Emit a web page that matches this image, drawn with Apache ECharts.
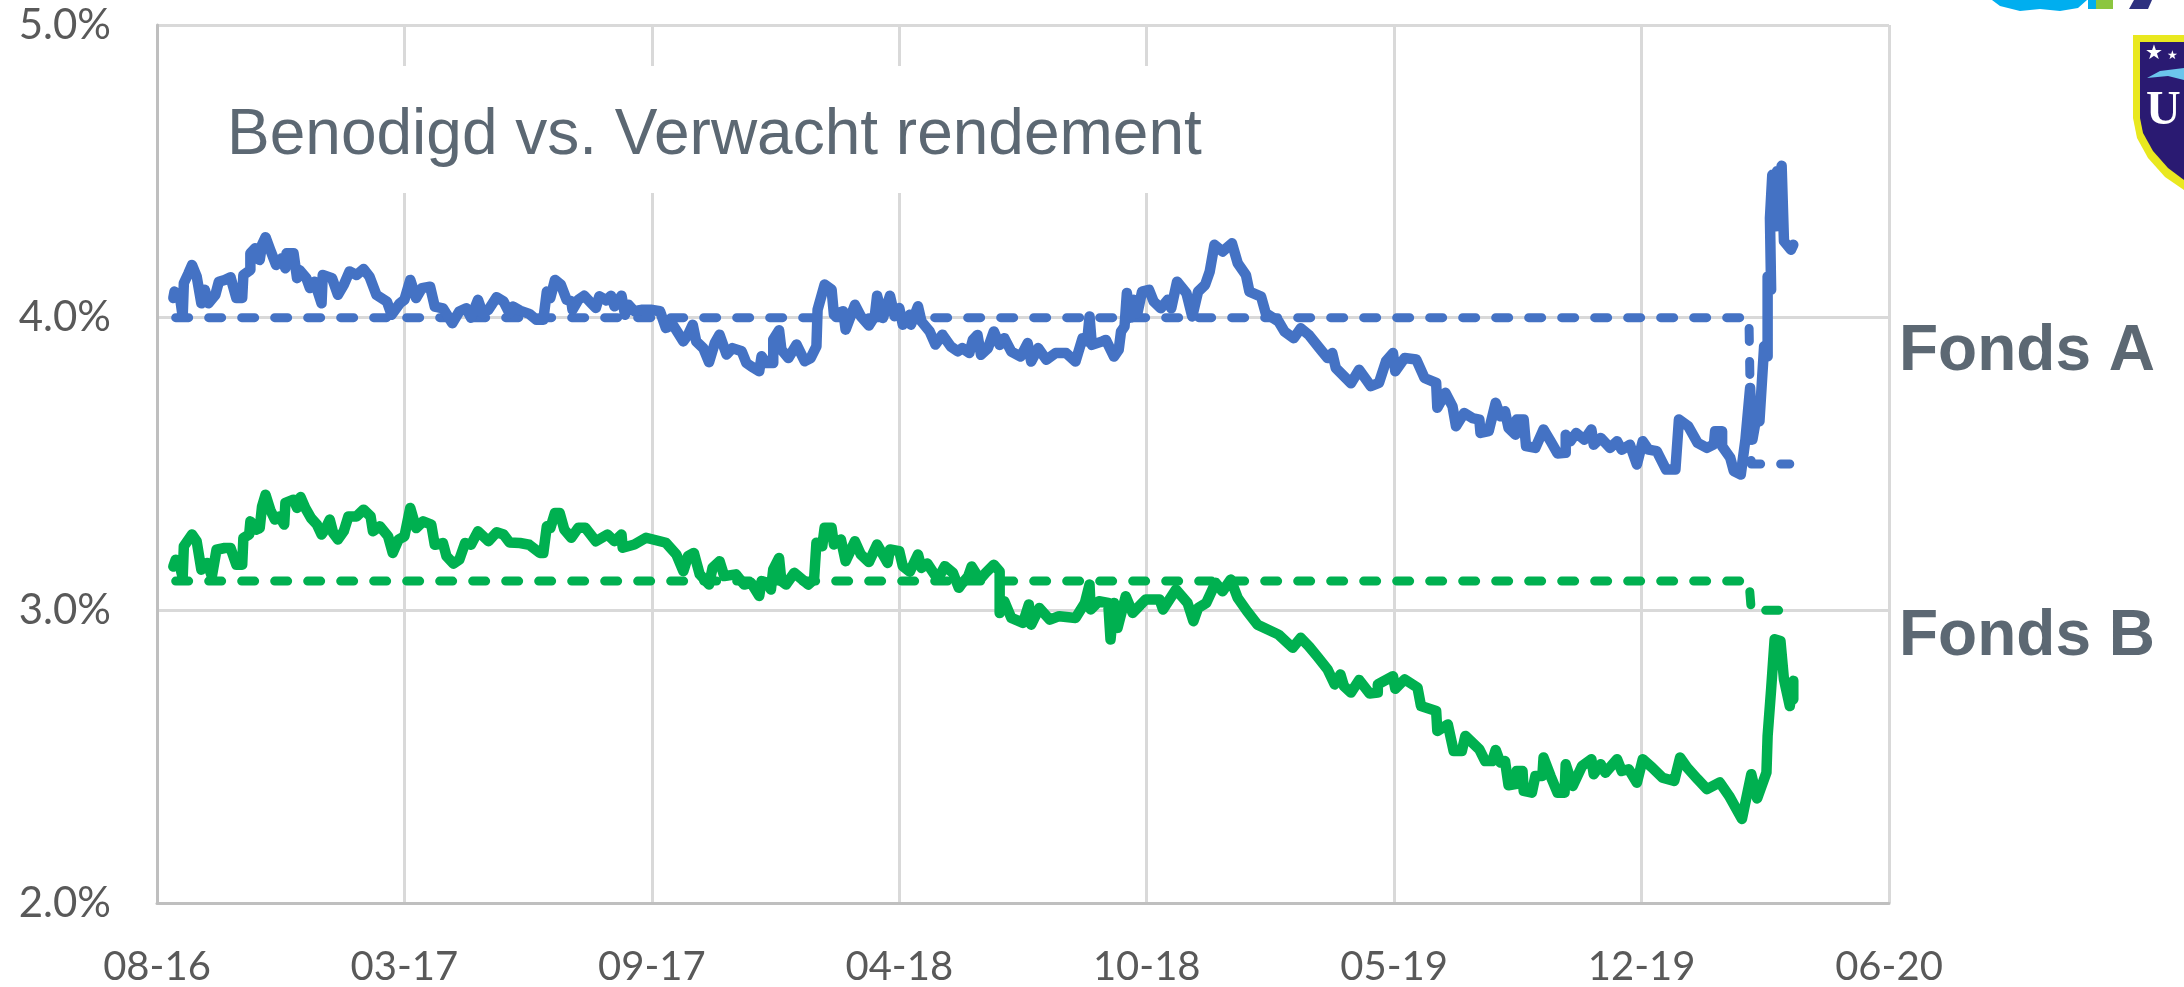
<!DOCTYPE html>
<html>
<head>
<meta charset="utf-8">
<title>Benodigd vs. Verwacht rendement</title>
<style>
html,body{margin:0;padding:0;background:#fff;}
#chart{width:2184px;height:987px;}
</style>
<script src="https://cdn.jsdelivr.net/npm/echarts@6/dist/echarts.min.js"></script>
</head>
<body>
<div id="chart"></div>
<script>
// tick labels of the date axis, one per 212 days
let xLabels = ['08-16','03-17','09-17','04-18','10-18','05-19','12-19','06-20'];

// Fonds A, verwacht rendement (days since 08-16, percent)
let blueDays = [14,15,20,22,23,27,30,34,38,41,44,50,53,58,63,68,73,74,80,80,84,88,90,93,97,102,107,110,111,117,120,122,128,131,135,141,142,150,155,160,165,171,177,182,188,197,201,208,212,217,222,227,234,238,245,253,259,265,269,275,279,284,291,297,302,305,311,319,325,331,334,337,341,
346,351,355,356,361,366,372,376,379,385,389,392,398,401,404,409,415,423,431,436,442,451,455,459,462,468,473,478,482,488,493,501,505,509,516,518,522,528,528,533,535,541,548,555,560,565,566,572,578,580,588,590,598,603,610,615,617,622,628,632,636,639,645,646,652,655,662,667,673,680,686,
690,696,699,703,706,712,717,722,726,732,740,746,749,755,762,770,779,787,793,797,799,801,810,813,820,824,826,829,831,834,837,840,844,850,854,860,866,869,874,882,887,892,898,902,906,913,921,926,933,936,946,950,961,966,974,980,987,996,1003,1007,1010,1023,
1030,1040,1047,1053,1059,1061,1069,1079,1086,1096,1097,1104,1110,1113,1120,1127,1133,1134,1141,1147,1151,1155,1158,1164,1165,1171,1173,1181,1188,1194,1200,1207,1207,1211,1216,1223,1229,1231,1237,1245,1251,1255,1262,1268,1273,1278,1285,1293,1301,1304,1312,
1320,1328,1334,1335,1341,1341,1348,1351,1357,1361,1365,1367,1370,1373,1377,1380,1380,1383,1382,1384,1387,1388,1390,1392,1394,1400,1402];
let blueValues = [4.067,4.089,4.061,4.004,4.118,4.152,4.180,4.141,4.049,4.095,4.049,4.078,4.123,4.129,4.138,4.067,4.067,4.146,4.163,4.220,4.237,4.197,4.249,4.275,4.232,4.180,4.203,4.169,4.220,4.220,4.135,4.163,4.135,4.101,4.123,4.049,4.146,4.135,4.078,4.112,4.158,4.146,4.166,4.141,4.078,4.055,4.010,4.049,4.061,4.129,4.067,4.101,4.106,4.038,4.032,3.981,4.021,4.032,4.000,4.061,4.015,4.027,4.070,4.055,4.015,4.038,4.024,4.013,3.993,3.993,4.089,4.067,4.129,
4.113,4.061,4.056,4.027,4.061,4.075,4.050,4.033,4.073,4.059,4.075,4.039,4.075,4.010,4.044,4.022,4.027,4.027,4.022,3.965,3.976,3.919,3.942,3.976,3.919,3.896,3.848,3.914,3.942,3.874,3.896,3.885,3.845,3.834,3.817,3.868,3.845,3.845,3.925,3.957,3.891,3.862,3.908,3.851,3.862,3.902,4.027,4.113,4.096,4.010,4.022,3.959,4.044,4.005,3.973,4.005,4.075,3.999,4.075,4.005,4.033,3.976,4.010,3.976,4.039,3.987,3.953,3.908,3.942,3.902,3.885,
3.896,3.879,3.924,3.941,3.873,3.896,3.953,3.907,3.930,3.884,3.867,3.913,3.850,3.896,3.856,3.879,3.879,3.850,3.930,3.919,4.004,3.907,3.919,3.924,3.867,3.890,3.953,3.970,4.084,4.000,4.061,4.015,4.089,4.095,4.055,4.032,4.061,4.032,4.123,4.084,4.004,4.089,4.112,4.158,4.249,4.226,4.254,4.186,4.146,4.089,4.072,4.015,3.987,3.953,3.930,3.964,3.941,3.896,3.862,3.879,3.828,3.776,
3.822,3.766,3.777,3.851,3.879,3.817,3.862,3.857,3.794,3.777,3.692,3.743,3.697,3.629,3.674,3.657,3.652,3.606,3.612,3.709,3.663,3.680,3.623,3.600,3.652,3.652,3.561,3.555,3.618,3.578,3.536,3.538,3.600,3.578,3.606,3.583,3.618,3.566,3.589,3.555,3.578,3.549,3.566,3.498,3.578,3.549,3.544,3.481,3.481,3.652,3.629,
3.572,3.555,3.567,3.612,3.612,3.561,3.521,3.476,3.464,3.584,3.760,3.584,3.652,3.646,3.902,3.868,4.141,4.096,4.340,4.488,4.312,4.500,4.323,4.519,4.261,4.232,4.249];

// Fonds B, verwacht rendement
let greenDays = [14,16,20,22,23,30,34,38,43,47,51,58,63,68,73,74,79,80,85,88,90,93,97,101,105,109,110,117,120,123,127,132,137,141,144,148,151,155,160,164,171,177,183,185,191,198,202,207,212,217,222,228,235,238,245,248,254,259,264,269,275,284,291,297,302,311,319,328,331,334,337,341,
345,349,355,361,367,376,386,392,398,399,409,419,431,436,445,451,455,460,465,473,476,482,486,496,503,509,516,518,523,526,528,533,535,539,546,558,563,565,570,572,578,580,586,590,598,603,610,617,626,628,636,639,645,652,655,660,669,675,682,687,
689,695,698,705,710,717,722,722,726,732,742,747,749,756,765,773,787,795,799,800,807,815,817,820,823,830,836,847,859,862,873,883,888,892,899,907,913,920,926,934,943,961,973,980,987,994,
1003,1009,1014,1017,1023,1030,1039,1046,1046,1059,1061,1069,1080,1083,1096,1097,1106,1111,1118,1121,1133,1138,1144,1147,1151,1155,1158,1164,1165,1170,1171,1178,1181,1187,1188,1194,1200,1206,1207,1213,1221,1229,1231,1237,1241,1251,1255,1261,1268,1273,1281,1290,1300,1305,1311,1320,
1328,1339,1347,1358,1366,1371,1379,1380,1383,1386,1391,1394,1399,1402,1402];
let greenValues = [3.150,3.173,3.145,3.111,3.219,3.259,3.236,3.139,3.162,3.116,3.207,3.213,3.213,3.156,3.156,3.247,3.259,3.304,3.276,3.281,3.355,3.395,3.344,3.310,3.321,3.293,3.367,3.378,3.350,3.387,3.350,3.315,3.293,3.259,3.276,3.310,3.264,3.242,3.270,3.321,3.321,3.344,3.321,3.270,3.287,3.253,3.196,3.242,3.253,3.350,3.281,3.304,3.293,3.224,3.230,3.185,3.160,3.173,3.230,3.224,3.270,3.236,3.267,3.259,3.232,3.230,3.224,3.196,3.196,3.287,3.281,3.333,
3.333,3.276,3.248,3.282,3.282,3.236,3.259,3.236,3.259,3.214,3.225,3.248,3.236,3.231,3.191,3.134,3.185,3.196,3.123,3.088,3.145,3.168,3.117,3.123,3.088,3.094,3.049,3.100,3.094,3.071,3.140,3.179,3.100,3.088,3.128,3.088,3.106,3.231,3.219,3.282,3.282,3.225,3.242,3.168,3.236,3.191,3.165,3.225,3.162,3.208,3.202,3.151,3.132,3.191,3.145,3.160,3.106,3.151,3.128,3.077,
3.088,3.116,3.150,3.105,3.128,3.156,3.133,2.991,3.031,2.974,2.957,3.020,2.951,3.008,2.968,2.980,2.974,3.025,3.088,3.003,3.031,3.025,2.900,3.025,2.940,3.048,2.991,3.037,3.037,3.003,3.071,3.025,2.963,3.008,3.025,3.094,3.065,3.105,3.042,2.997,2.951,2.917,2.872,2.906,2.877,2.843,
2.798,2.747,2.781,2.741,2.719,2.762,2.716,2.719,2.747,2.775,2.732,2.764,2.736,2.673,2.656,2.588,2.610,2.519,2.519,2.571,2.525,2.485,2.485,2.523,2.480,2.485,2.402,2.406,2.451,2.451,2.383,2.377,2.434,2.434,2.497,2.434,2.377,2.377,2.474,2.400,2.468,2.491,2.440,2.474,2.445,2.491,2.451,2.457,2.411,2.491,2.463,2.428,2.417,2.497,2.463,2.423,
2.389,2.412,2.366,2.287,2.440,2.357,2.446,2.571,2.730,2.901,2.895,2.764,2.673,2.759,2.696];

// benodigd rendement, stepped down at the end
let requiredDays = [16,1364,1366,1399];
let requiredA = [4.0,4.0,3.5,3.5];
let requiredB = [3.1,3.1,3.0,3.0];

function pairs(xs, ys) {
  let out = [];
  for (let i = 0; i < xs.length; i++) {
    out.push([xs[i], ys[i]]);
  }
  return out;
}

function lineSerie(name, xs, ys, color, dashed) {
  return {
    name: name,
    type: 'line',
    data: pairs(xs, ys),
    showSymbol: false,
    smooth: false,
    lineStyle: {
      color: color,
      width: dashed ? 9 : 10.5,
      type: dashed ? [13, 20] : 'solid',
      cap: 'round',
      join: 'round'
    }
  };
}

let blue = '#4472c4';
let green = '#00b050';
let slate = '#5c6873';

let chart = echarts.init(document.getElementById('chart'));
chart.setOption({
  animation: false,
  backgroundColor: '#fff',
  title: [
    {text: 'Benodigd vs. Verwacht rendement', left: 222, top: 99, textStyle: {fontFamily: 'Liberation Sans', fontWeight: 'normal', fontSize: 64, color: slate}},
    {text: 'Fonds A', left: 1894, top: 315, textStyle: {fontFamily: 'Liberation Sans', fontWeight: 'bold', fontSize: 64, color: slate}},
    {text: 'Fonds B', left: 1894, top: 600, textStyle: {fontFamily: 'Liberation Sans', fontWeight: 'bold', fontSize: 64, color: slate}}
  ],
  grid: {left: 157, right: 295, top: 25, bottom: 83, containLabel: false},
  xAxis: {
    type: 'value',
    min: 0,
    max: 1484,
    interval: 212,
    axisLine: {show: true, lineStyle: {color: '#bfbfbf', width: 3}},
    axisTick: {show: false},
    axisLabel: {
      margin: 44,
      fontFamily: 'Lato',
      fontSize: 40,
      color: '#595959',
      formatter: function (v) { return xLabels[Math.round(v / 212)]; }
    },
    splitLine: {show: true, lineStyle: {color: '#d9d9d9', width: 3}}
  },
  yAxis: {
    type: 'value',
    min: 2,
    max: 5,
    interval: 1,
    axisLine: {show: true, lineStyle: {color: '#bfbfbf', width: 3}},
    axisTick: {show: false},
    axisLabel: {
      margin: 46,
      fontFamily: 'Lato',
      fontSize: 42,
      color: '#595959',
      formatter: function (v) { return v.toFixed(1) + '%'; }
    },
    splitLine: {show: true, lineStyle: {color: '#d9d9d9', width: 3}}
  },
  graphic: [
    // white box behind the title, hides the gridlines
    {type: 'rect', z: 1, shape: {x: 200, y: 66, width: 1010, height: 127}, style: {fill: '#fff'}},
    // cut off logos top right
    {type: 'polygon', z: 1, shape: {points: [[1992,0],[2000,6],[2020,11],[2040,9],[2060,11],[2078,8],[2087,0]]}, style: {fill: '#00aeef'}},
    {type: 'rect', z: 1, shape: {x: 2088, y: 0, width: 8, height: 9}, style: {fill: '#00aeef'}},
    {type: 'rect', z: 1, shape: {x: 2096, y: 0, width: 17, height: 9}, style: {fill: '#8cc63f'}},
    {type: 'polygon', z: 1, shape: {points: [[2134,0],[2152,0],[2148,9],[2129,9]]}, style: {fill: '#2e3180'}},
    {type: 'polygon', z: 1, shape: {points: [[2133,35],[2184,35],[2184,190],[2165,177],[2148,158],[2137,138],[2133,118]]}, style: {fill: '#e9e81f'}},
    {type: 'polygon', z: 2, shape: {points: [[2140,42],[2184,42],[2184,180],[2168,168],[2153,151],[2143,133],[2140,118]]}, style: {fill: '#2a1a72'}},
    {type: 'text', z: 3, style: {x: 2145, y: 44, text: '★', fill: '#fff', font: '20px "DejaVu Sans"'}},
    {type: 'text', z: 3, style: {x: 2167, y: 50, text: '★', fill: '#fff', font: '12px "DejaVu Sans"'}},
    {type: 'polygon', z: 3, shape: {points: [[2147,78],[2160,71],[2184,68],[2184,80],[2168,76]]}, style: {fill: '#6cc5ec'}},
    {type: 'text', z: 3, style: {x: 2146, y: 88, text: 'U', fill: '#fff', font: 'bold 48px "Liberation Serif"'}}
  ],
  series: [
    lineSerie('Benodigd A', requiredDays, requiredA, blue, true),
    lineSerie('Benodigd B', requiredDays, requiredB, green, true),
    lineSerie('Fonds A', blueDays, blueValues, blue, false),
    lineSerie('Fonds B', greenDays, greenValues, green, false)
  ]
});
</script>
</body>
</html>
